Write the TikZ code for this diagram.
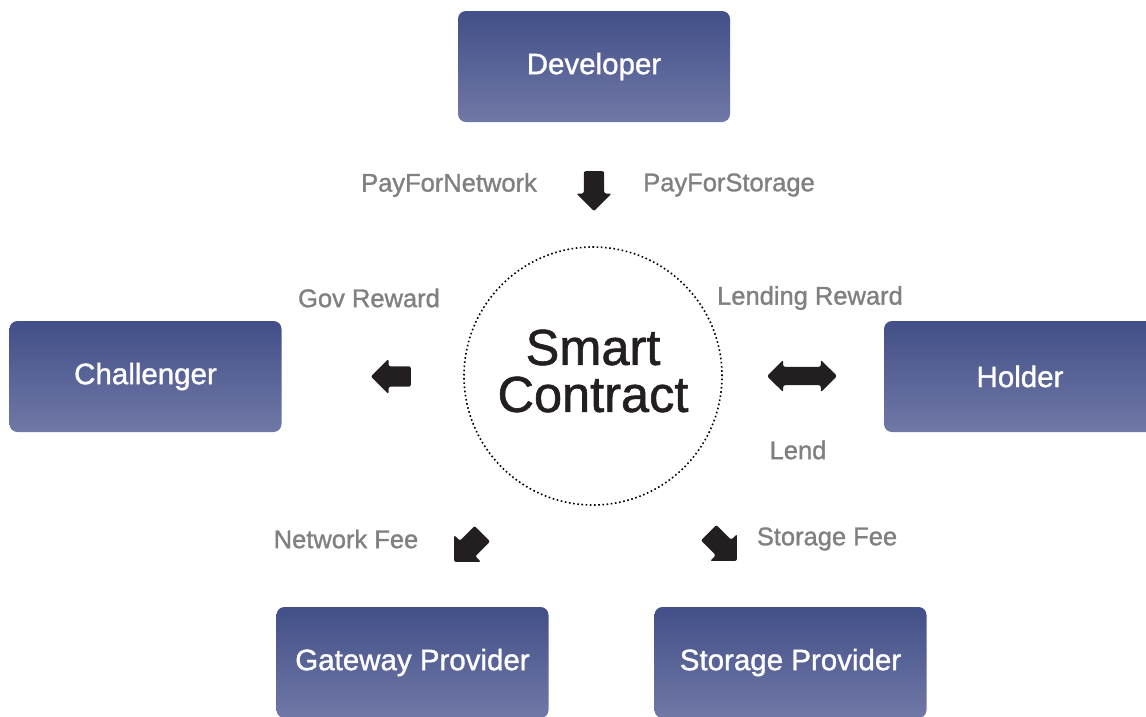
\documentclass[tikz,border=0pt]{standalone}
\usepackage{fontspec}
\setmainfont{Liberation Sans}
\newfontfamily\mediumsans[FakeBold=1.2]{Liberation Sans}
\usetikzlibrary{shapes.arrows}
\definecolor{boxtop}{RGB}{66,79,136}
\definecolor{boxbot}{RGB}{112,120,166}
\definecolor{arrowblack}{RGB}{35,31,32}
\definecolor{labelgray}{RGB}{128,128,128}
\tikzset{
  role/.style={rectangle, rounded corners=8pt, minimum width=272pt, minimum height=111pt,
    top color=boxtop, bottom color=boxbot, draw=none, text=white,
    font=\mediumsans\fontsize{29.5}{31}\selectfont},
  flow/.style={text=labelgray, font=\mediumsans\fontsize{25.5}{27}\selectfont},
  blockarrow/.style={single arrow, fill=arrowblack, draw=none, inner xsep=0pt, inner ysep=10pt,
    minimum height=40pt, minimum width=35pt, single arrow head extend=7.5pt, rounded corners=2pt},
  twoway/.style={double arrow, fill=arrowblack, draw=none, inner xsep=0pt, inner ysep=9pt,
    minimum height=70pt, minimum width=32pt, double arrow head extend=7pt, rounded corners=2pt}
}

\begin{document}
\begin{tikzpicture}[x=1pt,y=-1pt]
    \useasboundingbox (0,0) rectangle (1146,716);

    % roles
    \node[role] (developer) at (594,66.5) {Developer};
    \node[role] (challenger) at (145.5,376.5) {Challenger};
    \node[role] (holder) at (1020,376.5) {Holder};
    \node[role] (gateway) at (412.5,662.5) {Gateway Provider};
    \node[role] (storage) at (790.5,662.5) {Storage Provider};

    % contract
    \node[circle, draw=black, line width=1.6pt, dash pattern=on 1.6pt off 2.6pt,
          minimum size=258pt, inner sep=0pt] (contract) at (593,376) {};
    \node[align=center, text=arrowblack, font=\mediumsans\fontsize{50.5}{47}\selectfont]
          (contractname) at (593,371) {Smart\\Contract};

    % flows
    \node[blockarrow, rotate=-90, anchor=tail] (pay) at (594,171) {};
    \node[blockarrow, rotate=180, anchor=tail] (gov) at (411,376.5) {};
    \node[twoway] (lend) at (802,376) {};
    \node[blockarrow, minimum width=38pt, rotate=-135, anchor=tail] (netfee) at (482.5,533.5) {};
    \node[blockarrow, minimum width=38pt, rotate=-45, anchor=tail] (storfee) at (708.5,532.5) {};

    % labels
    \node[flow] (paynet) at (449,185) {PayForNetwork};
    \node[flow] (paystor) at (729,185) {PayForStorage};
    \node[flow] (govrew) at (369,298) {Gov Reward};
    \node[flow] (lendrew) at (810,298) {Lending Reward};
    \node[flow] (lendlbl) at (798,450) {Lend};
    \node[flow] (netlbl) at (346,539) {Network Fee};
    \node[flow] (storlbl) at (827,539) {Storage Fee};

\end{tikzpicture}
\end{document}
